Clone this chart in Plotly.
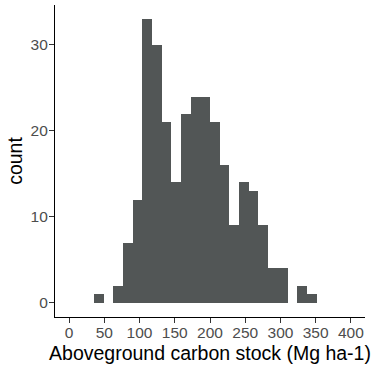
import plotly.graph_objects as go

# Histogram of aboveground carbon stock (precomputed bins)
bin_start = 35.2
bin_width = 13.74
counts = [1, 0, 2, 7, 12, 33, 30, 21, 14, 22, 24, 24, 21, 16, 9, 14, 13, 9, 4, 4, 0, 2, 1]
x_ticks = [0, 50, 100, 150, 200, 250, 300, 350, 400]
y_ticks = [0, 10, 20, 30]

centers = [bin_start + bin_width * (i + 0.5) for i in range(len(counts))]

fig = go.Figure(go.Bar(
    x=centers, y=counts, width=bin_width,
    marker=dict(color="#525656", line=dict(width=0)),
))

tick_font = dict(family="Liberation Sans, Arial, sans-serif", size=15.5, color="#4D4D4D")
title_font = dict(family="Liberation Sans, Arial, sans-serif", size=19.5, color="#000000")

fig.update_layout(
    width=376, height=368,
    margin=dict(l=55, r=11, t=5, b=51),
    paper_bgcolor="white", plot_bgcolor="white",
    showlegend=False, bargap=0,
    xaxis=dict(
        range=[-20, 420], tickvals=x_ticks, ticktext=[str(v) for v in x_ticks],
        showgrid=False, zeroline=False, showline=True, linecolor="black", linewidth=1.1,
        ticks="outside", ticklen=5, tickcolor="#333333", tickwidth=1.1,
        tickfont=tick_font, ticklabelstandoff=-4,
        title=dict(text="Aboveground carbon stock (Mg ha-1)", font=title_font, standoff=6),
    ),
    yaxis=dict(
        range=[-1.65, 34.65], tickvals=y_ticks, ticktext=[str(v) for v in y_ticks],
        showgrid=False, zeroline=False, showline=True, linecolor="black", linewidth=1.1,
        ticks="outside", ticklen=5, tickcolor="#333333", tickwidth=1.1,
        tickfont=tick_font, ticklabelstandoff=-2,
        title=dict(text="count", font=title_font, standoff=2),
    ),
)

fig.write_html("out.html")
